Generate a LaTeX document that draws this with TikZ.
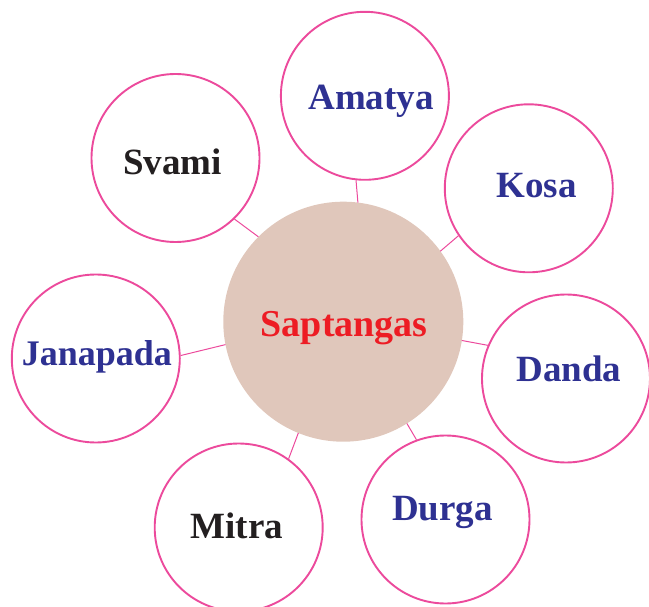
\documentclass[tikz,border=0pt]{standalone}
\usepackage{fontspec}
\setmainfont{Liberation Serif}
\definecolor{ringpink}{HTML}{EC4A9C}
\definecolor{hubfill}{HTML}{E0C7BB}
\definecolor{txtblue}{HTML}{2E3192}
\definecolor{txtred}{HTML}{ED1C24}
\definecolor{txtblack}{HTML}{231F20}
\tikzset{
  ring/.style={circle, draw=ringpink, line width=1.9pt, fill=white, minimum size=168pt, inner sep=0pt},
  hub/.style={circle, fill=hubfill, minimum size=240pt, inner sep=0pt, outer sep=0pt},
  lbl/.style={anchor=base, inner sep=0pt, font=\fontsize{37}{40}\selectfont\bfseries},
  link/.style={draw=ringpink, line width=1pt}
}
\begin{document}
\begin{tikzpicture}[x=1pt,y=-1pt]
\useasboundingbox (0,0) rectangle (649,607);
\node[hub] (hub) at (343.3,321.7) {};
\node[ring] (amatya) at (364.9,95.8) {};
\node[ring] (svami) at (175.5,158) {};
\node[ring] (kosa) at (528.8,188.3) {};
\node[ring] (janapada) at (95.8,358.5) {};
\node[ring] (danda) at (566,378.5) {};
\node[ring] (durga) at (445.5,519.5) {};
\node[ring] (mitra) at (238.7,527.5) {};
\draw[link] (hub.83.6) -- (amatya.264.4);
\draw[link] (hub.135.2) -- (svami.314.1);
\draw[link] (hub.36.6) -- (kosa.214.1);
\draw[link] (hub.191.9) -- (janapada.2);
\draw[link] (hub.351.2) -- (danda.157.4);
\draw[link] (hub.302.6) -- (durga.110.4);
\draw[link] (hub.248.8) -- (mitra.54.4);
\node[lbl, text=txtred, font=\fontsize{38}{40}\selectfont\bfseries] (tsapt) at (344.2,336.7) {Saptangas};
\node[lbl, text=txtblue] (tamatya) at (371,109.2) {Amatya};
\node[lbl, text=txtblack] (tsvami) at (172.4,174.2) {Svami};
\node[lbl, text=txtblue] (tkosa) at (536.6,197.4) {Kosa};
\node[lbl, text=txtblue, font=\fontsize{36}{40}\selectfont\bfseries] (tjanapada) at (96.9,365.9) {Janapada};
\node[lbl, text=txtblue] (tdanda) at (568.8,381.7) {Danda};
\node[lbl, text=txtblue] (tdurga) at (442.5,520) {Durga};
\node[lbl, text=txtblack] (tmitra) at (236.7,538.3) {Mitra};
\end{tikzpicture}
\end{document}
